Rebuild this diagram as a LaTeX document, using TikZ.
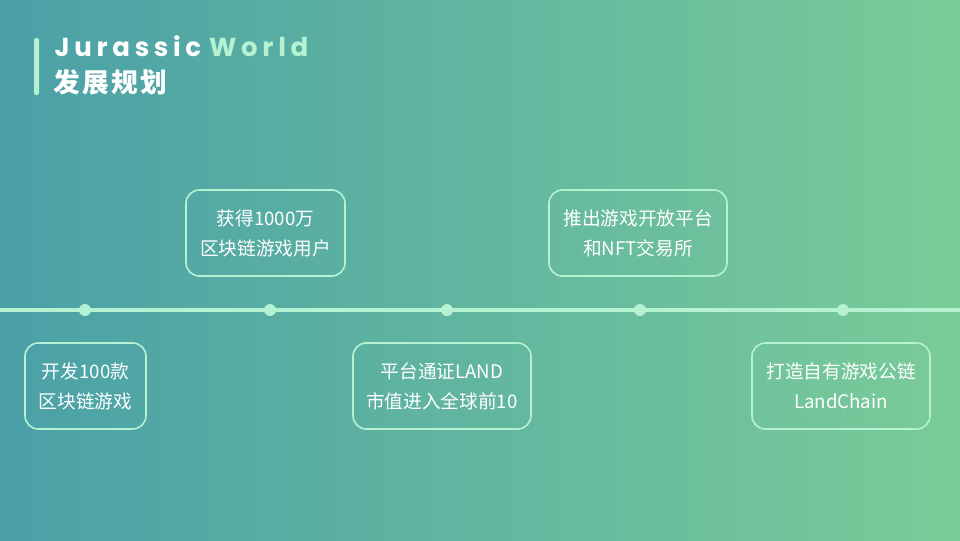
\documentclass[tikz,border=0pt]{standalone}
\usepackage{fontspec}
\setmainfont{Noto Sans}
\newfontfamily\cjk{Noto Sans CJK SC}
\newfontfamily\cjkt[LetterSpace=8]{Noto Sans CJK SC}
\newfontfamily\titlef[LetterSpace=18]{Poppins}
\usetikzlibrary{positioning}
\definecolor{gl}{HTML}{4AA0A7}
\definecolor{gr}{HTML}{7ACC98}
\definecolor{mint}{HTML}{B5F2D2}
\tikzset{
  evbox/.style={draw=mint, line width=1.2pt, rounded corners=10pt, align=center, text=white, font=\cjk\fontsize{14}{22.5}\selectfont, inner sep=0pt},
  dot/.style={circle, fill=mint, minimum size=9pt, inner sep=0pt}
}
\begin{document}
\begin{tikzpicture}[x=0.75pt,y=-0.75pt]
\shade[left color=gl, right color=gr] (0,0) rectangle (960,540);
\useasboundingbox (0,0) rectangle (960,540);
\fill[mint, rounded corners=1.5pt] (34,38) rectangle (39,95);
\node[anchor=west, text=white, font=\titlef\bfseries\fontsize{19.5}{20}\selectfont] (t1) at (50,46) {Jurassic\hspace{6pt}\textcolor{mint}{World}};
\node[anchor=west, text=white, font=\cjkt\bfseries\fontsize{20}{21}\selectfont] (t2) at (49,82) {发展规划};
\coordinate (L) at (0,310);
\coordinate (R) at (960,310);
\draw[mint, line width=3pt] (L) -- (R);
\node[dot] (d1) at (85,310) {};
\node[dot] (d2) at (270,310) {};
\node[dot] (d3) at (447,310) {};
\node[dot] (d4) at (640,310) {};
\node[dot] (d5) at (843,310) {};
\node[evbox, minimum width=90.75pt, minimum height=64.5pt] (b1) at (85.5,386) {开发100款\\区块链游戏};
\node[evbox, minimum width=119.25pt, minimum height=64.5pt] (b2) at (265.5,233) {获得1000万\\区块链游戏用户};
\node[evbox, minimum width=133.5pt, minimum height=64.5pt] (b3) at (442,386) {平台通证LAND\\市值进入全球前10};
\node[evbox, minimum width=133.5pt, minimum height=64.5pt] (b4) at (638,233) {推出游戏开放平台\\和NFT交易所};
\node[evbox, minimum width=133.5pt, minimum height=64.5pt] (b5) at (841,386) {打造自有游戏公链\\LandChain};
\end{tikzpicture}
\end{document}
